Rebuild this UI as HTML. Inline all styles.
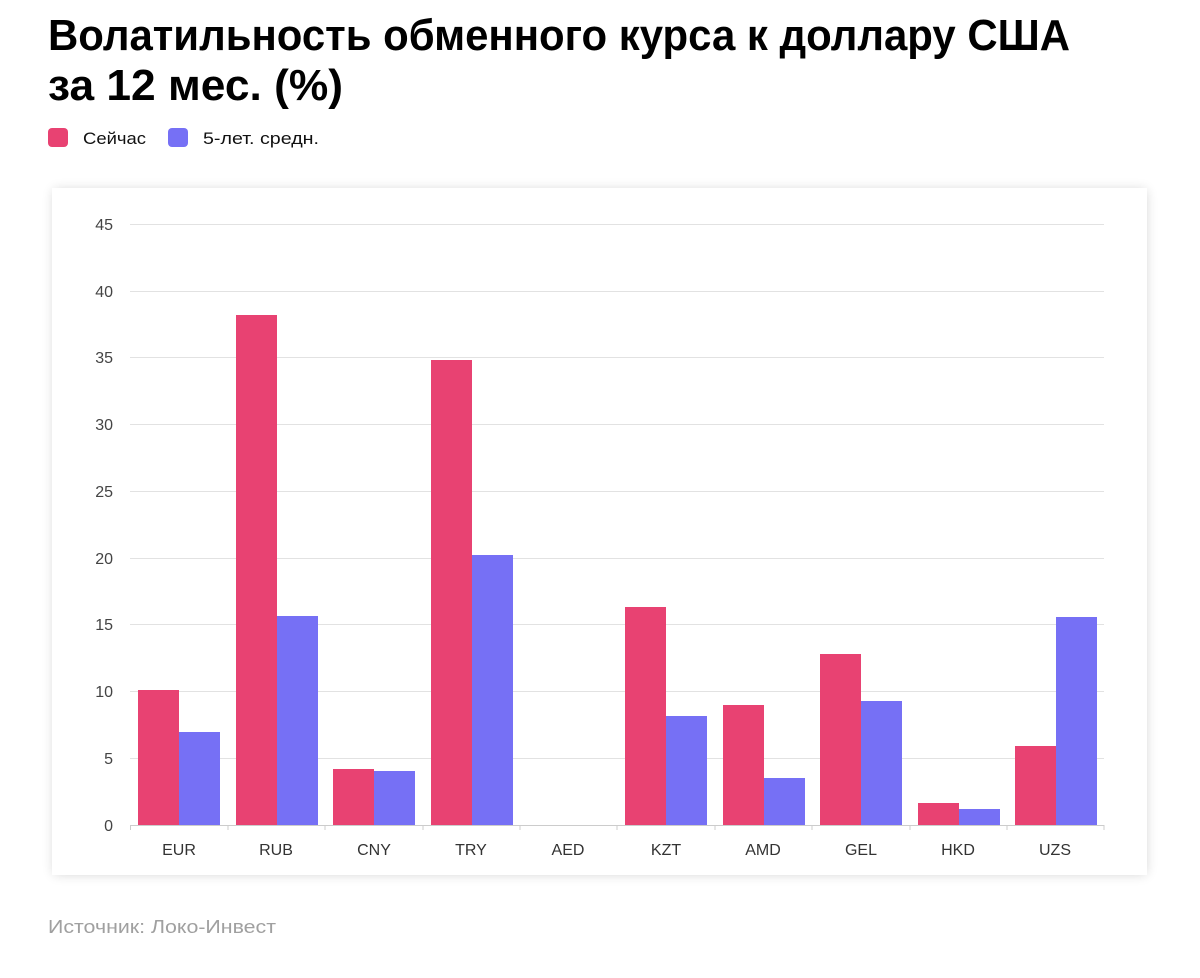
<!DOCTYPE html>
<html><head><meta charset="utf-8"><style>
html,body{margin:0;padding:0;background:#fff;}
svg{display:block;font-family:"Liberation Sans","DejaVu Sans",sans-serif;}
</style></head><body>
<svg width="1200" height="978" viewBox="0 0 1200 978" xmlns="http://www.w3.org/2000/svg">
<defs><filter id="sh" x="-5%" y="-5%" width="110%" height="110%"><feGaussianBlur stdDeviation="6"/></filter></defs>
<text x="48" y="50" font-size="44" font-weight="bold" fill="#000" textLength="1022" lengthAdjust="spacingAndGlyphs">Волатильность обменного курса к доллару США</text>
<text x="48" y="100" font-size="44" font-weight="bold" fill="#000" textLength="295" lengthAdjust="spacingAndGlyphs">за 12 мес. (%)</text>
<rect x="48" y="128" width="20" height="19" rx="4" fill="#e84272"/>
<text x="83" y="144" font-size="17" fill="#111" textLength="63" lengthAdjust="spacingAndGlyphs">Сейчас</text>
<rect x="168" y="128" width="20" height="19" rx="4" fill="#7670f5"/>
<text x="203" y="144" font-size="17" fill="#111" textLength="116" lengthAdjust="spacingAndGlyphs">5-лет. средн.</text>
<rect x="54" y="190" width="1092" height="684" fill="#000" opacity="0.18" filter="url(#sh)"/>
<rect x="52" y="188" width="1095" height="687" fill="#fff"/>
<g stroke="#e2e2e2" stroke-width="1">
<line x1="130" x2="1104" y1="224.5" y2="224.5"/><line x1="130" x2="1104" y1="291.5" y2="291.5"/>
<line x1="130" x2="1104" y1="357.5" y2="357.5"/><line x1="130" x2="1104" y1="424.5" y2="424.5"/>
<line x1="130" x2="1104" y1="491.5" y2="491.5"/><line x1="130" x2="1104" y1="558.5" y2="558.5"/>
<line x1="130" x2="1104" y1="624.5" y2="624.5"/><line x1="130" x2="1104" y1="691.5" y2="691.5"/>
<line x1="130" x2="1104" y1="758.5" y2="758.5"/>
</g>
<line x1="130" x2="1104" y1="825.5" y2="825.5" stroke="#ccc"/>
<g stroke="#ccc">
<line x1="130.5" x2="130.5" y1="825" y2="830"/><line x1="228" x2="228" y1="825" y2="830"/><line x1="325" x2="325" y1="825" y2="830"/><line x1="423" x2="423" y1="825" y2="830"/><line x1="520" x2="520" y1="825" y2="830"/><line x1="617" x2="617" y1="825" y2="830"/><line x1="715" x2="715" y1="825" y2="830"/><line x1="812" x2="812" y1="825" y2="830"/><line x1="910" x2="910" y1="825" y2="830"/><line x1="1007" x2="1007" y1="825" y2="830"/><line x1="1104" x2="1104" y1="825" y2="830"/>
</g>
<g font-size="16" fill="#444" text-anchor="end">
<text x="113" y="230">45</text><text x="113" y="297">40</text><text x="113" y="363">35</text><text x="113" y="430">30</text><text x="113" y="497">25</text><text x="113" y="564">20</text><text x="113" y="630">15</text><text x="113" y="697">10</text><text x="113" y="764">5</text><text x="113" y="831">0</text>
</g>
<g fill="#e84272">
<rect x="138" y="690" width="41" height="135"/>
<rect x="236" y="315" width="41" height="510"/>
<rect x="333" y="769" width="41" height="56"/>
<rect x="431" y="360" width="41" height="465"/>
<rect x="625" y="607" width="41" height="218"/>
<rect x="723" y="705" width="41" height="120"/>
<rect x="820" y="654" width="41" height="171"/>
<rect x="918" y="803" width="41" height="22"/>
<rect x="1015" y="746" width="41" height="79"/>
</g>
<g fill="#7670f5">
<rect x="179" y="732" width="41" height="93"/>
<rect x="277" y="616" width="41" height="209"/>
<rect x="374" y="771" width="41" height="54"/>
<rect x="472" y="555" width="41" height="270"/>
<rect x="666" y="716" width="41" height="109"/>
<rect x="764" y="778" width="41" height="47"/>
<rect x="861" y="701" width="41" height="124"/>
<rect x="959" y="809" width="41" height="16"/>
<rect x="1056" y="617" width="41" height="208"/>
</g>
<g font-size="16" fill="#333" text-anchor="middle">
<text x="179" y="855">EUR</text><text x="276" y="855">RUB</text><text x="374" y="855">CNY</text><text x="471" y="855">TRY</text><text x="568" y="855">AED</text><text x="666" y="855">KZT</text><text x="763" y="855">AMD</text><text x="861" y="855">GEL</text><text x="958" y="855">HKD</text><text x="1055" y="855">UZS</text>
</g>
<text x="48" y="933" font-size="18" fill="#a0a0a0" textLength="228" lengthAdjust="spacingAndGlyphs">Источник: Локо-Инвест</text>
</svg>
</body></html>
